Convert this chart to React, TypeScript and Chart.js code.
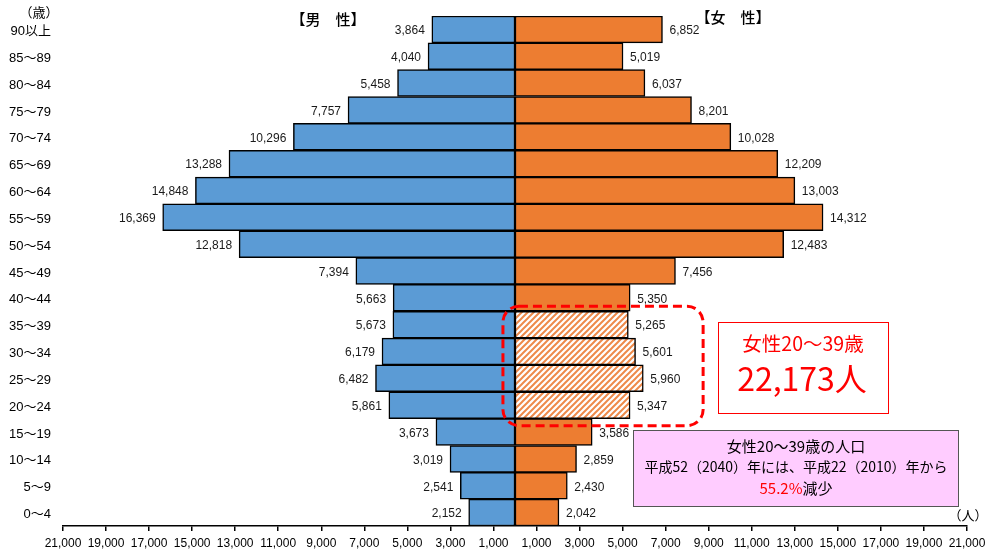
import React, { useEffect, useRef } from "react";
import { Chart, registerables } from "chart.js";

Chart.register(...registerables);

const ageGroups = [
  "90以上", "85〜89", "80〜84", "75〜79", "70〜74", "65〜69", "60〜64", "55〜59", "50〜54", "45〜49",
  "40〜44", "35〜39", "30〜34", "25〜29", "20〜24", "15〜19", "10〜14", "5〜9", "0〜4",
];
const maleValues = [
  3864, 4040, 5458, 7757, 10296, 13288, 14848, 16369, 12818, 7394,
  5663, 5673, 6179, 6482, 5861, 3673, 3019, 2541, 2152,
];
const femaleValues = [
  6852, 5019, 6037, 8201, 10028, 12209, 13003, 14312, 12483, 7456,
  5350, 5265, 5601, 5960, 5347, 3586, 2859, 2430, 2042,
];
const highlightAges = ["35〜39", "30〜34", "25〜29", "20〜24"];
const xTickValues = [
  -21000, -19000, -17000, -15000, -13000, -11000, -9000, -7000, -5000, -3000, -1000,
  1000, 3000, 5000, 7000, 9000, 11000, 13000, 15000, 17000, 19000, 21000,
];

const NUM_FONT = '"Liberation Sans", "Noto Sans CJK JP", sans-serif';
const JP_FONT = '"Noto Sans CJK JP", sans-serif';
const MALE_COLOR = "#5B9BD5";
const FEMALE_COLOR = "#ED7D31";

function makeHatch(): CanvasPattern | string {
  const p = document.createElement("canvas");
  p.width = 6;
  p.height = 6;
  const c = p.getContext("2d");
  if (!c) return "#F4B183";
  c.fillStyle = "#ffffff";
  c.fillRect(0, 0, 6, 6);
  c.strokeStyle = "#EE8A4A";
  c.lineWidth = 2;
  c.beginPath();
  c.moveTo(0, 6); c.lineTo(6, 0);
  c.moveTo(-3, 3); c.lineTo(3, -3);
  c.moveTo(3, 9); c.lineTo(9, 3);
  c.stroke();
  return c.createPattern(p, "repeat") || "#F4B183";
}

const labelPlugin = {
  id: "barLabels",
  afterDatasetsDraw(chart: any) {
    const ctx = chart.ctx;
    ctx.save();
    ctx.font = `12px ${NUM_FONT}`;
    ctx.fillStyle = "#1a1a1a";
    ctx.textBaseline = "middle";
    chart.data.datasets.forEach((ds: any, di: number) => {
      const meta = chart.getDatasetMeta(di);
      meta.data.forEach((bar: any, i: number) => {
        const v = Math.abs(ds.data[i]);
        const txt = v.toLocaleString("en-US");
        if (di === 0) {
          ctx.textAlign = "right";
          ctx.fillText(txt, bar.x - 7, bar.y + 1.5);
        } else {
          ctx.textAlign = "left";
          ctx.fillText(txt, bar.x + 7, bar.y + 1.5);
        }
      });
    });
    ctx.restore();
  },
};

const annotationPlugin = {
  id: "annotations",
  afterDraw(chart: any) {
    const ctx = chart.ctx;
    ctx.save();
    // headers
    ctx.fillStyle = "#000";
    ctx.textBaseline = "middle";
    ctx.textAlign = "center";
    ctx.font = `500 15px ${JP_FONT}`;
    ctx.fillText("【男　性】", 328, 19);
    ctx.fillText("【女　性】", 733, 17);
    ctx.font = `13px ${JP_FONT}`;
    ctx.fillText("（歳）", 39, 12);
    ctx.fillText("（人）", 968, 515);

    // dashed rounded rect
    const x = chart.scales.x;
    const y = chart.scales.y;
    const rowH = y.getPixelForValue(1) - y.getPixelForValue(0);
    const top = y.getPixelForValue(ageGroups.indexOf("35〜39")) - rowH / 2 - 5;
    const bottom = y.getPixelForValue(ageGroups.indexOf("20〜24")) + rowH / 2 + 7;
    const left = x.getPixelForValue(-560);
    const right = x.getPixelForValue(8740);
    ctx.setLineDash([9, 5]);
    ctx.lineWidth = 3;
    ctx.strokeStyle = "#FF0000";
    ctx.beginPath();
    (ctx as any).roundRect(left, top, right - left, bottom - top, 16);
    ctx.stroke();
    ctx.setLineDash([]);

    // red box
    ctx.fillStyle = "#fff";
    ctx.fillRect(718, 322, 170, 91);
    ctx.lineWidth = 1;
    ctx.strokeStyle = "#FF0000";
    ctx.strokeRect(718.5, 322.5, 170, 91);
    ctx.fillStyle = "#FF0000";
    ctx.font = `19.5px ${JP_FONT}`;
    ctx.fillText("女性20〜39歳", 803, 344);
    ctx.font = `32px ${JP_FONT}`;
    ctx.fillText("22,173人", 802, 379);

    // pink box
    ctx.fillStyle = "#FFCCFF";
    ctx.fillRect(633, 430, 325, 76);
    ctx.strokeStyle = "#555";
    ctx.strokeRect(633.5, 430.5, 325, 76);
    ctx.fillStyle = "#000";
    ctx.font = `15px ${JP_FONT}`;
    ctx.fillText("女性20〜39歳の人口", 796, 446);
    ctx.font = `14px ${JP_FONT}`;
    ctx.fillText("平成52（2040）年には、平成22（2010）年から", 796, 467);
    ctx.font = `15px ${JP_FONT}`;
    const p1 = "55.2%";
    const p2 = "減少";
    const w1 = ctx.measureText(p1).width;
    const w2 = ctx.measureText(p2).width;
    const sx = 796 - (w1 + w2) / 2;
    ctx.textAlign = "left";
    ctx.fillStyle = "#FF0000";
    ctx.fillText(p1, sx, 488);
    ctx.fillStyle = "#000";
    ctx.fillText(p2, sx + w1, 488);
    ctx.restore();
  },
};

export default function App() {
  const canvasRef = useRef<HTMLCanvasElement | null>(null);

  useEffect(() => {
    if (!canvasRef.current) return;
    const hatch = makeHatch();
    const femaleBg = ageGroups.map((a) => (highlightAges.includes(a) ? hatch : FEMALE_COLOR));
    const chart = new Chart(canvasRef.current, {
      type: "bar",
      data: {
        labels: ageGroups,
        datasets: [
          {
            label: "男性",
            data: maleValues.map((v) => -v),
            backgroundColor: MALE_COLOR,
            borderColor: "#000",
            borderWidth: 1.5,
            borderSkipped: false,
            barPercentage: 1,
            categoryPercentage: 1,
          },
          {
            label: "女性",
            data: femaleValues,
            backgroundColor: femaleBg as any,
            borderColor: "#000",
            borderWidth: 1.5,
            borderSkipped: false,
            barPercentage: 1,
            categoryPercentage: 1,
          },
        ],
      },
      options: {
        animation: false,
        responsive: false,
        indexAxis: "y",
        layout: { padding: { top: 16, right: 20, left: 0, bottom: 0 } },
        plugins: {
          legend: { display: false },
          tooltip: { enabled: false },
        },
        scales: {
          x: {
            type: "linear",
            min: -21000,
            max: 21000,
            stacked: true,
            position: "bottom",
            afterBuildTicks: (s: any) => {
              s.ticks = xTickValues.map((v) => ({ value: v }));
            },
            afterFit: (s: any) => {
              s.height = 26;
              s.paddingLeft = 0;
              s.paddingRight = 0;
            },
            grid: {
              drawOnChartArea: false,
              drawTicks: true,
              tickLength: 5,
              color: "#000",
              lineWidth: 1.5,
            },
            border: { display: true, color: "#000", width: 1.5 },
            ticks: {
              autoSkip: false,
              maxRotation: 0,
              padding: 5,
              color: "#000",
              font: { family: NUM_FONT, size: 12 },
              callback: (v: any) => Math.abs(Number(v)).toLocaleString("en-US"),
            },
          },
          y: {
            type: "category",
            stacked: true,
            afterFit: (s: any) => {
              s.width = 63;
              s.paddingTop = 0;
              s.paddingBottom = 0;
            },
            grid: { display: false, drawTicks: false },
            border: { display: false },
            ticks: {
              padding: 12,
              labelOffset: 2,
              color: "#000",
              font: { family: NUM_FONT, size: 13 },
            },
          },
        },
      } as any,
      plugins: [labelPlugin, annotationPlugin],
    });
    return () => chart.destroy();
  }, []);

  return (
    <div style={{ position: "absolute", left: 0, top: 0, width: 987, height: 552, background: "#fff" }}>
      <canvas ref={canvasRef} width={987} height={552} style={{ display: "block" }} />
    </div>
  );
}
